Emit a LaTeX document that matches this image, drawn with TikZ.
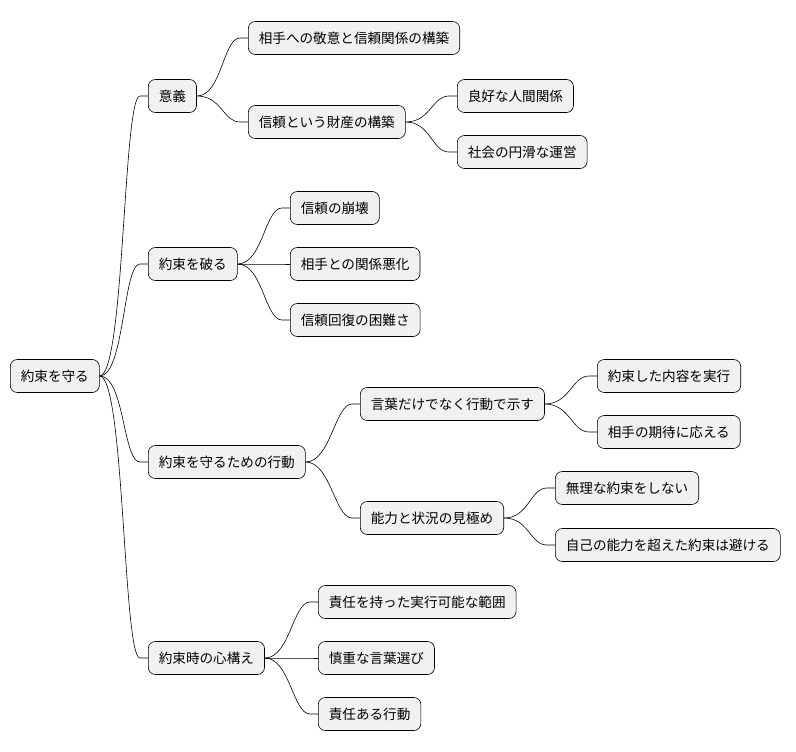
\documentclass[tikz,border=0pt]{standalone}
\usepackage{fontspec}
\setmainfont{Noto Sans CJK JP}
\begin{document}
\begin{tikzpicture}[x=1pt,y=-1pt,
  mm/.style={draw=black,line width=0.6pt,fill={rgb,255:red,241;green,241;blue,241},rounded corners=7pt,anchor=west,minimum height=33pt,inner xsep=10.5pt,font=\fontsize{13.6}{15}\selectfont},
  ln/.style={line width=0.6pt}]
\useasboundingbox (0,0) rectangle (796,752);
\node[mm] (r) at (10,376) {約束を守る};
\node[mm] (a) at (148,96) {意義};
\node[mm] (a1) at (248,38) {相手への敬意と信頼関係の構築};
\node[mm] (a2) at (248,122) {信頼という財産の構築};
\node[mm] (a21) at (457,96) {良好な人間関係};
\node[mm] (a22) at (457,152) {社会の円滑な運営};
\node[mm] (b) at (148,264) {約束を破る};
\node[mm] (b1) at (290,208) {信頼の崩壊};
\node[mm] (b2) at (290,264) {相手との関係悪化};
\node[mm] (b3) at (290,320) {信頼回復の困難さ};
\node[mm] (c) at (148,462) {約束を守るための行動};
\node[mm] (c1) at (360,404) {言葉だけでなく行動で示す};
\node[mm] (c11) at (597,376) {約束した内容を実行};
\node[mm] (c12) at (597,432) {相手の期待に応える};
\node[mm] (c2) at (360,518) {能力と状況の見極め};
\node[mm] (c21) at (555,488) {無理な約束をしない};
\node[mm] (c22) at (555,545) {自己の能力を超えた約束は避ける};
\node[mm] (d) at (148,658) {約束時の心構え};
\node[mm] (d1) at (318,602) {責任を持った実行可能な範囲};
\node[mm] (d2) at (318,658) {慎重な言葉選び};
\node[mm] (d3) at (318,714) {責任ある行動};
\foreach \p/\c in {r/a,r/b,r/c,r/d,a/a1,a/a2,a2/a21,a2/a22,b/b1,b/b2,b/b3,c/c1,c/c2,c1/c11,c1/c12,c2/c21,c2/c22,d/d1,d/d2,d/d3}
  \draw[ln] (\p.east) .. controls ([xshift=25pt]\p.east) and ([xshift=-25pt]\c.west) .. ([xshift=-8pt]\c.west) -- (\c.west);
\end{tikzpicture}
\end{document}
